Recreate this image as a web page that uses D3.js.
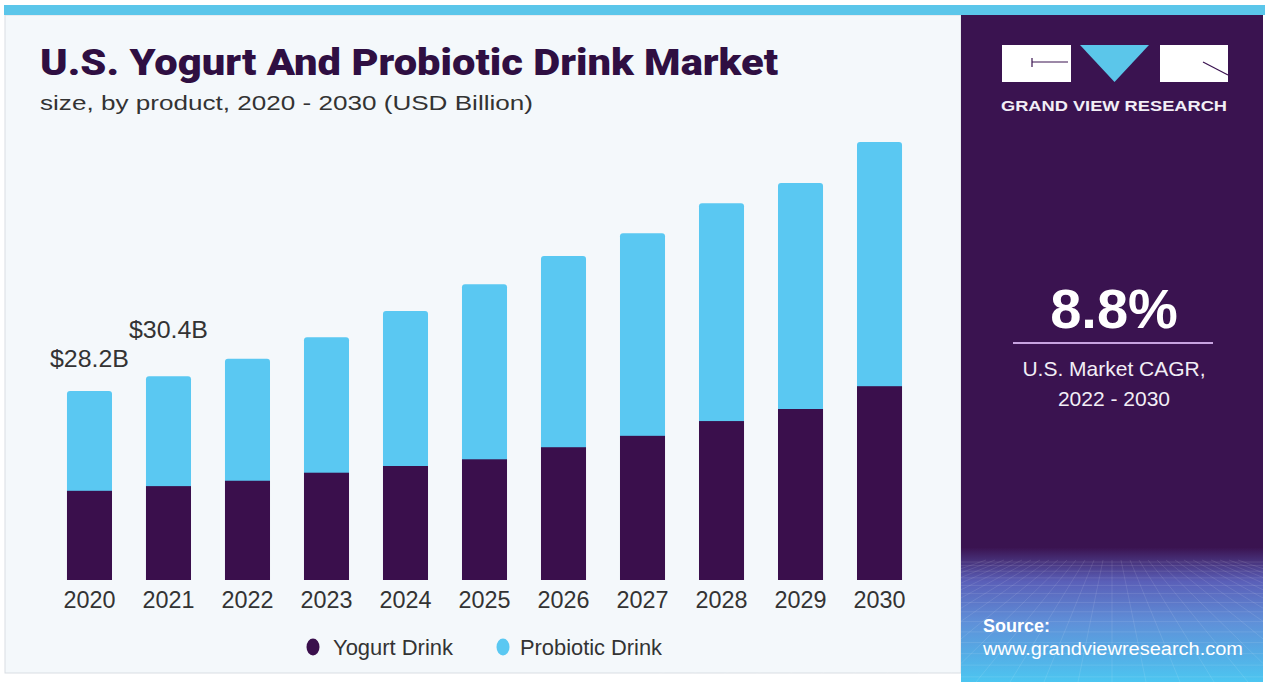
<!DOCTYPE html>
<html>
<head>
<meta charset="utf-8">
<script src="https://cdn.jsdelivr.net/npm/d3@7"></script>
<style>
  html, body { margin: 0; padding: 0; background: #ffffff; }
  svg { display: block; }
</style>
</head>
<body>
<svg id="chart" width="1268" height="682"></svg>
<script>
// ---- data ----
const years = ["2020","2021","2022","2023","2024","2025","2026","2027","2028","2029","2030"];
const yogurtDrink = [13.3, 14.0, 14.8, 16.0, 17.0, 18.0, 19.8, 21.5, 23.7, 25.5, 28.9];
const probioticDrink = [14.9, 16.4, 18.2, 20.2, 23.1, 26.1, 28.5, 30.2, 32.5, 33.7, 36.4];
const seriesNames = ["Yogurt Drink", "Probiotic Drink"];
const valueLabels = [{year: "2020", text: "$28.2B"}, {year: "2021", text: "$30.4B"}];
const titleText = "U.S. Yogurt And Probiotic Drink Market";
const subtitleText = "size, by product, 2020 - 2030 (USD Billion)";
const cagrValue = "8.8%";
const cagrLines = ["U.S. Market CAGR,", "2022 - 2030"];

const colors = { yogurt: "#3a0f4c", probiotic: "#5ac8f2", dark: "#3a1350", title: "#2f0f42", text: "#333333" };

const svg = d3.select("#chart");
const font = "'Liberation Sans', Arial, sans-serif";

// ---- backgrounds ----
svg.append("rect").attr("x", 5).attr("y", 15).attr("width", 956).attr("height", 658)
  .attr("fill", "#f4f8fb").attr("stroke", "#d9dee3").attr("stroke-width", 1);

const defs = svg.append("defs");
const grad = defs.append("linearGradient").attr("id", "bottomGrad").attr("x1", 0).attr("y1", 0).attr("x2", 0).attr("y2", 1);
[[0, "#3b1452"], [0.25, "#5a5fb8"], [0.55, "#5f8fd8"], [1, "#4cc6f1"]].forEach(([o, c]) =>
  grad.append("stop").attr("offset", o).attr("stop-color", c));

svg.append("rect").attr("x", 961).attr("y", 15).attr("width", 302).attr("height", 667).attr("fill", colors.dark);
svg.append("rect").attr("x", 961).attr("y", 548).attr("width", 302).attr("height", 134).attr("fill", "url(#bottomGrad)");

// perspective grid in the bottom-right image
const gridG = svg.append("g").attr("stroke", "#ffffff").attr("stroke-opacity", 0.1).attr("stroke-width", 1);
d3.range(0, 14).forEach(i => {
  const yy = 562 + Math.pow(i, 1.35) * 3.6;
  if (yy < 682) gridG.append("line").attr("x1", 961).attr("x2", 1263).attr("y1", yy).attr("y2", yy);
});
d3.range(-14, 15).forEach(i => {
  gridG.append("line").attr("x1", 1112 + i * 9).attr("y1", 560).attr("x2", 1112 + i * 34).attr("y2", 682);
});

// top stripe
svg.append("rect").attr("x", 4).attr("y", 5).attr("width", 1261).attr("height", 10).attr("fill", "#5bc6ea");

// ---- title ----
svg.append("text").attr("x", 40).attr("y", 75).text(titleText)
  .attr("font-family", "Roboto, 'Liberation Sans', Arial, sans-serif").attr("font-weight", 900)
  .attr("font-size", 36).attr("fill", colors.title)
  .attr("textLength", 738).attr("lengthAdjust", "spacingAndGlyphs");
svg.append("text").attr("x", 40).attr("y", 110).text(subtitleText)
  .attr("font-family", font).attr("font-size", 21).attr("fill", colors.text)
  .attr("textLength", 493).attr("lengthAdjust", "spacingAndGlyphs");

// ---- scales ----
const x = d3.scaleBand().domain(years).range([33, 936]).paddingInner(0.43).paddingOuter(0.43);
const y = d3.scaleLinear().domain([0, 70]).range([580, 110.6]);

const rows = years.map((yr, i) => ({ year: yr, yogurt: yogurtDrink[i], probiotic: probioticDrink[i] }));
const stack = d3.stack().keys(["yogurt", "probiotic"])(rows);

const barsG = svg.append("g");
// probiotic (top) with rounded corners
barsG.selectAll(".prob").data(stack[1]).join("rect")
  .attr("x", d => x(d.data.year)).attr("width", x.bandwidth())
  .attr("y", d => y(d[1])).attr("height", d => y(d[0]) - y(d[1]) + 4)
  .attr("rx", 3).attr("fill", colors.probiotic);
// yogurt (bottom)
barsG.selectAll(".yog").data(stack[0]).join("rect")
  .attr("x", d => x(d.data.year)).attr("width", x.bandwidth())
  .attr("y", d => y(d[1])).attr("height", d => y(d[0]) - y(d[1]))
  .attr("fill", colors.yogurt);

// value labels
const labelGap = { "2020": 24, "2021": 38 };
svg.selectAll(".vlabel").data(valueLabels).join("text")
  .attr("x", d => x(d.year) + x.bandwidth() / 2)
  .attr("y", d => { const i = years.indexOf(d.year); return y(yogurtDrink[i] + probioticDrink[i]) - labelGap[d.year]; })
  .attr("text-anchor", "middle").text(d => d.text)
  .attr("font-family", font).attr("font-size", 23).attr("fill", colors.text)
  .attr("textLength", 79).attr("lengthAdjust", "spacingAndGlyphs");

// x axis
const xAxis = svg.append("g").attr("transform", "translate(0,580)")
  .call(d3.axisBottom(x).tickSize(0).tickPadding(26));
xAxis.select(".domain").remove();
xAxis.selectAll("text").attr("font-family", font).attr("font-size", 23).attr("fill", colors.text)
  .attr("dy", 0).attr("dominant-baseline", "auto").attr("y", 28)
  .attr("textLength", 52).attr("lengthAdjust", "spacingAndGlyphs");

// ---- legend ----
const legend = svg.append("g");
const legendItems = [
  { name: seriesNames[0], color: colors.yogurt, cx: 313, tx: 333, w: 120 },
  { name: seriesNames[1], color: colors.probiotic, cx: 503, tx: 520, w: 142 }
];
legend.selectAll("ellipse").data(legendItems).join("ellipse")
  .attr("cx", d => d.cx).attr("cy", 647).attr("rx", 6.5).attr("ry", 8.5).attr("fill", d => d.color);
legend.selectAll("text").data(legendItems).join("text")
  .attr("x", d => d.tx).attr("y", 655).text(d => d.name)
  .attr("font-family", font).attr("font-size", 22).attr("fill", colors.text)
  .attr("textLength", d => d.w).attr("lengthAdjust", "spacingAndGlyphs");

// ---- logo ----
const logo = svg.append("g");
logo.append("rect").attr("x", 1002).attr("y", 45).attr("width", 69).attr("height", 37).attr("fill", "#ffffff");
logo.append("rect").attr("x", 1160).attr("y", 45).attr("width", 68).attr("height", 37).attr("fill", "#ffffff");
logo.append("path").attr("d", "M1080,45 L1149,45 L1114.5,82 Z").attr("fill", "#5bc6ea");
logo.append("line").attr("x1", 1032).attr("y1", 62).attr("x2", 1068).attr("y2", 62).attr("stroke", colors.dark).attr("stroke-width", 1.2);
logo.append("line").attr("x1", 1032).attr("y1", 58).attr("x2", 1032).attr("y2", 67).attr("stroke", colors.dark).attr("stroke-width", 1.2);
logo.append("line").attr("x1", 1203).attr("y1", 62).attr("x2", 1228).attr("y2", 75).attr("stroke", colors.dark).attr("stroke-width", 1.2);
logo.append("text").attr("x", 1001).attr("y", 111).text("GRAND VIEW RESEARCH")
  .attr("font-family", font).attr("font-weight", "bold").attr("font-size", 15).attr("fill", "#f2eef6")
  .attr("textLength", 226).attr("lengthAdjust", "spacingAndGlyphs");

// ---- CAGR ----
svg.append("text").attr("x", 1114).attr("y", 328).attr("text-anchor", "middle").text(cagrValue)
  .attr("font-family", font).attr("font-weight", "bold").attr("font-size", 56).attr("fill", "#ffffff");
svg.append("line").attr("x1", 1013).attr("x2", 1213).attr("y1", 343).attr("y2", 343)
  .attr("stroke", "#c7a3e0").attr("stroke-width", 2);
svg.selectAll(".cagr").data(cagrLines).join("text")
  .attr("x", 1114).attr("y", (d, i) => 376 + i * 30).attr("text-anchor", "middle").text(d => d)
  .attr("font-family", font).attr("font-size", 21).attr("fill", "#f2eef6");

// ---- source ----
svg.append("text").attr("x", 983).attr("y", 632).text("Source:")
  .attr("font-family", font).attr("font-weight", "bold").attr("font-size", 18).attr("fill", "#ffffff");
svg.append("text").attr("x", 983).attr("y", 655).text("www.grandviewresearch.com")
  .attr("font-family", font).attr("font-size", 18).attr("fill", "#ffffff")
  .attr("textLength", 260).attr("lengthAdjust", "spacingAndGlyphs");
</script>
</body>
</html>
